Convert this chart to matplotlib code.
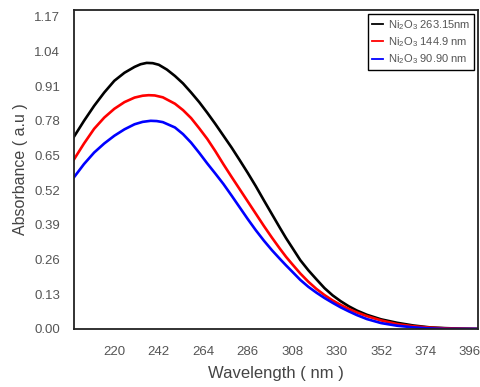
import numpy as np
import matplotlib.pyplot as plt

plt.rcParams['font.family'] = ['Liberation Sans', 'DejaVu Sans']
plt.rcParams['mathtext.fontset'] = 'custom'
plt.rcParams['mathtext.rm'] = 'Liberation Sans'

# wavelength (nm) and absorbance
wl_black = [200, 205, 210, 215, 220, 225, 230, 233, 236, 239, 242, 246, 250, 254, 258,
            262, 266, 270, 274, 278, 282, 286, 290, 294, 298, 302, 305, 308, 312, 316,
            320, 324, 328, 332, 336, 340, 345, 352, 360, 368, 376, 384, 392, 400]
abs_black = [0.720, 0.780, 0.836, 0.886, 0.930, 0.960, 0.982, 0.992, 0.997, 0.996,
             0.990, 0.972, 0.948, 0.920, 0.886, 0.850, 0.810, 0.768, 0.724, 0.680,
             0.633, 0.585, 0.535, 0.482, 0.430, 0.378, 0.340, 0.305, 0.258, 0.220,
             0.186, 0.153, 0.126, 0.104, 0.085, 0.069, 0.053, 0.036, 0.023, 0.013,
             0.006, 0.003, 0.001, 0.0]

wl_red = [200, 205, 210, 215, 220, 225, 230, 234, 237, 240, 244, 250, 254, 258,
          262, 266, 270, 274, 278, 282, 286, 290, 294, 298, 302, 305, 308, 312, 316,
          320, 324, 328, 332, 336, 340, 345, 352, 360, 368, 376, 384, 392, 400]
abs_red = [0.635, 0.695, 0.750, 0.792, 0.825, 0.850, 0.867, 0.874, 0.876, 0.875,
           0.868, 0.844, 0.820, 0.790, 0.752, 0.712, 0.666, 0.617, 0.570, 0.524,
           0.478, 0.432, 0.386, 0.342, 0.300, 0.270, 0.243, 0.208, 0.177, 0.150,
           0.127, 0.107, 0.090, 0.075, 0.062, 0.048, 0.032, 0.018, 0.010, 0.005,
           0.002, 0.001, 0.0]

wl_blue = [200, 205, 210, 215, 220, 225, 230, 234, 238, 241, 244, 250, 254, 258,
           262, 266, 270, 274, 278, 282, 286, 290, 294, 298, 302, 305, 308, 312, 316,
           320, 324, 328, 332, 336, 340, 345, 352, 360, 368, 376, 384, 400]
abs_blue = [0.568, 0.618, 0.661, 0.695, 0.724, 0.748, 0.767, 0.776, 0.780, 0.779,
            0.775, 0.755, 0.730, 0.698, 0.660, 0.620, 0.582, 0.543, 0.500, 0.456,
            0.412, 0.370, 0.331, 0.295, 0.262, 0.238, 0.215, 0.184, 0.158, 0.136,
            0.116, 0.098, 0.081, 0.066, 0.052, 0.037, 0.022, 0.012, 0.006, 0.002,
            0.0, 0.0]

labels = [r'Ni$_2$O$_3$ 263.15nm', r'Ni$_2$O$_3$ 144.9 nm', r'Ni$_2$O$_3$ 90.90 nm']
xticks = [220, 242, 264, 286, 308, 330, 352, 374, 396]
yticks = [0.00, 0.13, 0.26, 0.39, 0.52, 0.65, 0.78, 0.91, 1.04, 1.17]

fig = plt.figure(figsize=(4.8, 3.87), dpi=100)
ax = fig.add_axes([0.154, 0.150, 0.842, 0.824])

ax.plot(wl_black, abs_black, '-', color='black', lw=1.9, label=labels[0])
ax.plot(wl_red, abs_red, '-', color='red', lw=1.9, label=labels[1])
ax.plot(wl_blue, abs_blue, '-', color='blue', lw=1.9, label=labels[2])

ax.set_xlim(200, 400)
ax.set_ylim(0, 1.195)
ax.set_xticks(xticks)
ax.set_yticks(yticks)
ax.set_yticklabels(['%.2f' % v for v in yticks])
ax.tick_params(axis='y', length=0, labelsize=9.5, labelcolor='#555555', pad=10)
ax.tick_params(axis='x', length=0, labelsize=9.5, labelcolor='#555555', pad=12)
for s in ax.spines.values():
    s.set_linewidth(1.3)
    s.set_color('#222222')

ax.set_xlabel('Wavelength ( nm )', fontsize=12, color='#444444', labelpad=6)
ax.set_ylabel('Absorbance ( a.u )', fontsize=11.5, color='#444444', labelpad=4)

leg = ax.legend(loc='upper right', bbox_to_anchor=(1.004, 1.004), fontsize=8,
                handlelength=1.0, handletextpad=0.4, borderpad=0.35,
                labelspacing=0.3, fancybox=False, framealpha=1)
leg.get_frame().set_edgecolor('black')
leg.get_frame().set_linewidth(1.0)
for t in leg.get_texts():
    t.set_color('#555555')
for h in leg.get_lines():
    h.set_linewidth(1.3)

plt.savefig('out.png', dpi=100)
